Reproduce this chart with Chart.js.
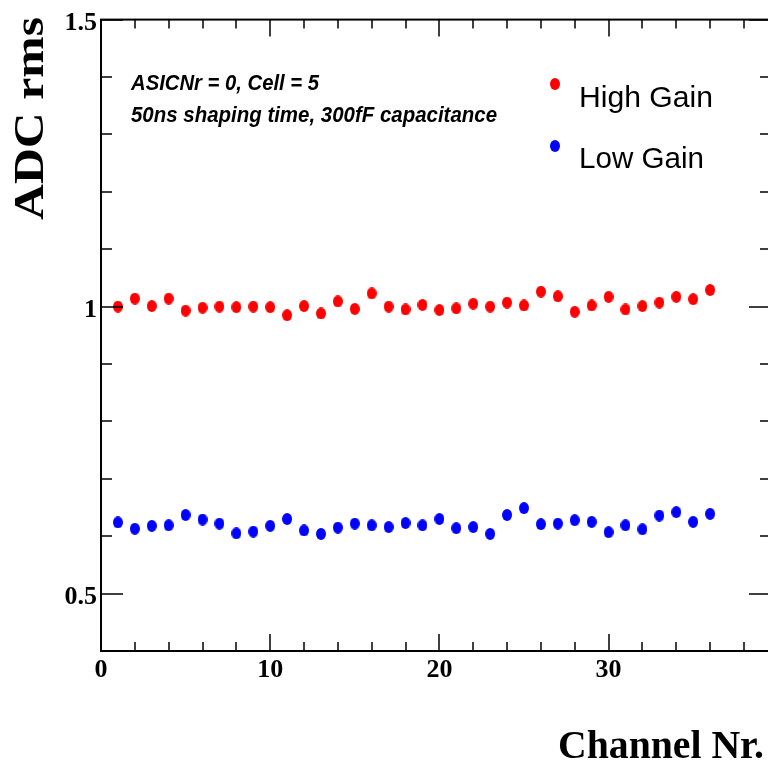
<!DOCTYPE html>
<html>
<head>
<meta charset="utf-8">
<script src="https://cdn.jsdelivr.net/npm/chart.js@4/dist/chart.umd.min.js"></script>
<style>
  html, body { margin: 0; padding: 0; overflow: hidden; background: #fff; }
  #wrap { width: 780px; height: 772px; }
</style>
</head>
<body>
<div id="wrap"><canvas id="chart" width="780" height="772"></canvas></div>
<script>
// ADC noise (rms) per channel, ASIC 0 / cell 5
const channels = [1, 2, 3, 4, 5, 6, 7, 8, 9, 10, 11, 12, 13, 14, 15, 16, 17, 18,
                  19, 20, 21, 22, 23, 24, 25, 26, 27, 28, 29, 30, 31, 32, 33, 34, 35, 36];
const highGain = [1.000, 1.014, 1.001, 1.014, 0.993, 0.998, 1.000, 0.999, 1.000, 0.999,
                  0.985, 1.001, 0.988, 1.009, 0.996, 1.023, 1.000, 0.995, 1.003, 0.994,
                  0.997, 1.005, 1.000, 1.007, 1.002, 1.026, 1.018, 0.991, 1.002, 1.017,
                  0.995, 1.001, 1.007, 1.017, 1.013, 1.029];
const lowGain  = [0.624, 0.613, 0.618, 0.619, 0.637, 0.629, 0.622, 0.605, 0.608, 0.618,
                  0.630, 0.610, 0.604, 0.615, 0.622, 0.619, 0.616, 0.623, 0.619, 0.630,
                  0.614, 0.616, 0.604, 0.637, 0.649, 0.621, 0.622, 0.628, 0.625, 0.607,
                  0.619, 0.612, 0.636, 0.642, 0.625, 0.639];

const xTickLabels = [0, 10, 20, 30];
const yTickLabels = [0.5, 1, 1.5];
const xMinorStep = 2;
const yMinorStep = 0.1;
const xMin = 0, xMax = 39.6;
const yMin = 0.4, yMax = 1.5;

const infoLines = ['ASICNr = 0, Cell = 5', '50ns shaping time, 300fF capacitance'];

// slightly tall oval marker, like the ROOT full-circle marker
function makeDot(color, w, h) {
  const c = document.createElement('canvas');
  c.width = w; c.height = h;
  const g = c.getContext('2d');
  g.fillStyle = color;
  g.beginPath();
  g.ellipse(w / 2, h / 2, w / 2, h / 2, 0, 0, Math.PI * 2);
  g.fill();
  return c;
}

// draw text squeezed/stretched to a given width
function fitText(ctx, text, x, y, width) {
  const m = ctx.measureText(text).width;
  ctx.save();
  ctx.translate(x, y);
  ctx.scale(width / m, 1);
  ctx.textAlign = 'left';
  ctx.fillText(text, 0, 0);
  ctx.restore();
}

const redDot = makeDot('#ff0000', 10, 12);
const blueDot = makeDot('#0000ff', 10, 12);

const toPoints = vals => channels.map((ch, i) => ({ x: ch, y: vals[i] }));

const rootFrame = {
  id: 'rootFrame',
  afterDraw(chart) {
    const { ctx, chartArea: a, scales: { x, y } } = chart;
    ctx.save();
    ctx.strokeStyle = '#000';
    ctx.fillStyle = '#000';

    // ticks on all four sides, pointing inward
    ctx.lineWidth = 1.5;
    ctx.beginPath();
    for (let i = 0; xMin + i * xMinorStep <= xMax; i++) {
      const v = xMin + i * xMinorStep;
      const px = Math.round(x.getPixelForValue(v));
      const len = xTickLabels.includes(v) ? 17 : 9;
      ctx.moveTo(px, a.bottom); ctx.lineTo(px, a.bottom - len);
      ctx.moveTo(px, a.top); ctx.lineTo(px, a.top + len);
    }
    for (let i = 0; ; i++) {
      const v = +(yMin + i * yMinorStep).toFixed(3);
      if (v > yMax + 1e-9) break;
      const py = Math.round(y.getPixelForValue(v));
      const len = yTickLabels.includes(v) ? 22 : 11;
      ctx.moveTo(a.left, py); ctx.lineTo(a.left + len, py);
      ctx.moveTo(a.right, py); ctx.lineTo(a.right - len, py);
    }
    ctx.stroke();

    ctx.lineWidth = 2;
    ctx.strokeRect(a.left, a.top, a.right - a.left, a.bottom - a.top);

    // axis titles
    ctx.textBaseline = 'alphabetic';
    ctx.font = 'bold 42px "Liberation Serif", "DejaVu Serif", serif';
    ctx.save();
    ctx.translate(43, 220);
    ctx.rotate(-Math.PI / 2);
    fitText(ctx, 'ADC rms', 0, 0, 203);
    ctx.restore();
    ctx.font = 'bold 40px "Liberation Serif", "DejaVu Serif", serif';
    fitText(ctx, 'Channel Nr.', 558, 758, 206);

    // run conditions
    ctx.font = 'italic bold 22px "Liberation Sans", Arial, sans-serif';
    fitText(ctx, infoLines[0], 131, 90, 188);
    fitText(ctx, infoLines[1], 131, 122, 366);

    // legend
    ctx.font = '30px "Liberation Sans", Arial, sans-serif';
    const rows = [{ dotY: 84, textY: 107, w: 134 }, { dotY: 146, textY: 168, w: 125 }];
    chart.data.datasets.forEach((ds, i) => {
      const r = rows[i];
      const img = ds.pointStyle;
      ctx.drawImage(img, 555 - img.width / 2, r.dotY - img.height / 2);
      fitText(ctx, ds.label, 579, r.textY, r.w);
    });
    ctx.restore();
  }
};

new Chart(document.getElementById('chart'), {
  type: 'scatter',
  data: {
    datasets: [
      { label: 'High Gain', data: toPoints(highGain), pointStyle: redDot, backgroundColor: '#ff0000' },
      { label: 'Low Gain', data: toPoints(lowGain), pointStyle: blueDot, backgroundColor: '#0000ff' }
    ]
  },
  options: {
    responsive: false,
    devicePixelRatio: 1,
    animation: false,
    layout: { padding: { left: 0, right: 9, top: 14, bottom: 0 } },
    plugins: { legend: { display: false }, tooltip: { enabled: false } },
    scales: {
      x: {
        type: 'linear',
        min: xMin,
        max: xMax,
        afterBuildTicks: s => { s.ticks = xTickLabels.map(v => ({ value: v })); },
        afterFit: s => { s.height = 121; },
        grid: { display: false, drawTicks: false },
        border: { display: false },
        ticks: {
          autoSkip: false,
          maxRotation: 0,
          padding: 4,
          color: '#000',
          font: { family: '"Liberation Serif", serif', size: 26, weight: 'bold' },
          callback: v => String(v)
        }
      },
      y: {
        type: 'linear',
        min: yMin,
        max: yMax,
        afterBuildTicks: s => { s.ticks = yTickLabels.map(v => ({ value: v })); },
        afterFit: s => { s.width = 101; },
        grid: { display: false, drawTicks: false },
        border: { display: false },
        ticks: {
          autoSkip: false,
          padding: 4,
          labelOffset: 4,
          color: '#000',
          font: { family: '"Liberation Serif", serif', size: 26, weight: 'bold' },
          callback: v => String(v)
        }
      }
    }
  },
  plugins: [rootFrame]
});
</script>
</body>
</html>
